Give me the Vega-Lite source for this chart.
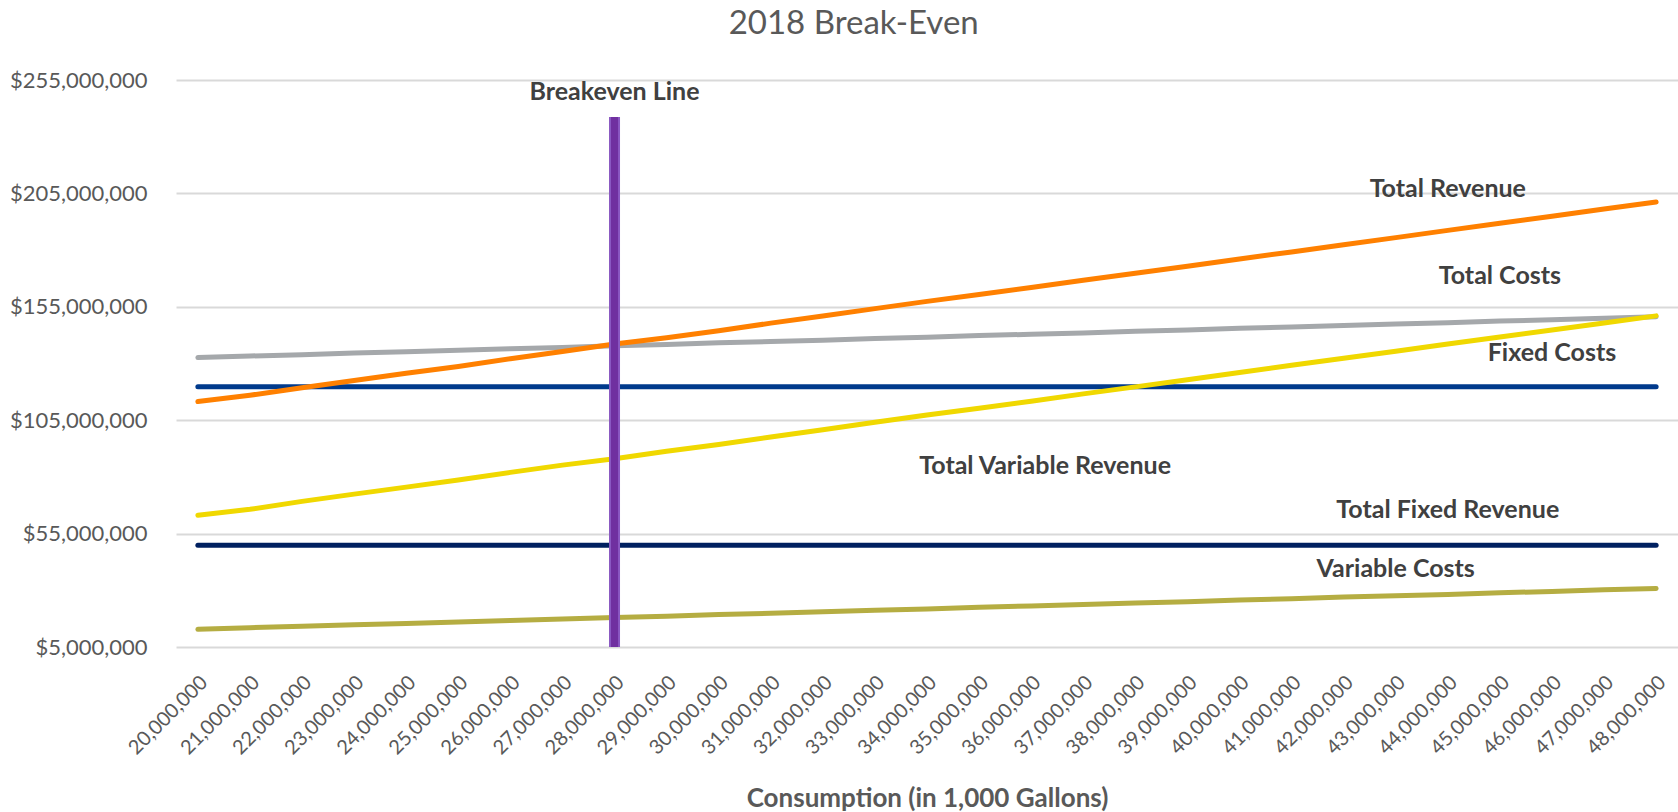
{
 "$schema": "https://vega.github.io/schema/vega-lite/v6.json",
 "width": 1502,
 "height": 567,
 "autosize": "none",
 "padding": {"left": 176, "top": 80, "right": 0, "bottom": 165},
 "background": "white",
 "title": {"text": "2018 Break-Even", "font": "Lato", "fontSize": 33, "fontWeight": "normal", "color": "#595959", "anchor": "middle", "frame": "bounds", "baseline": "alphabetic", "offset": 2, "dx": 10},
 "config": {"view": {"stroke": null}, "font": "Lato"},
 "datasets": {
  "lines": [
   {"consumption":"20,000,000","series":"Variable Costs","value":12800000},
   {"consumption":"21,000,000","series":"Variable Costs","value":13500000},
   {"consumption":"22,000,000","series":"Variable Costs","value":14100000},
   {"consumption":"23,000,000","series":"Variable Costs","value":14800000},
   {"consumption":"24,000,000","series":"Variable Costs","value":15400000},
   {"consumption":"25,000,000","series":"Variable Costs","value":16000000},
   {"consumption":"26,000,000","series":"Variable Costs","value":16700000},
   {"consumption":"27,000,000","series":"Variable Costs","value":17300000},
   {"consumption":"28,000,000","series":"Variable Costs","value":18000000},
   {"consumption":"29,000,000","series":"Variable Costs","value":18600000},
   {"consumption":"30,000,000","series":"Variable Costs","value":19300000},
   {"consumption":"31,000,000","series":"Variable Costs","value":19900000},
   {"consumption":"32,000,000","series":"Variable Costs","value":20500000},
   {"consumption":"33,000,000","series":"Variable Costs","value":21200000},
   {"consumption":"34,000,000","series":"Variable Costs","value":21800000},
   {"consumption":"35,000,000","series":"Variable Costs","value":22500000},
   {"consumption":"36,000,000","series":"Variable Costs","value":23100000},
   {"consumption":"37,000,000","series":"Variable Costs","value":23700000},
   {"consumption":"38,000,000","series":"Variable Costs","value":24400000},
   {"consumption":"39,000,000","series":"Variable Costs","value":25000000},
   {"consumption":"40,000,000","series":"Variable Costs","value":25700000},
   {"consumption":"41,000,000","series":"Variable Costs","value":26300000},
   {"consumption":"42,000,000","series":"Variable Costs","value":27000000},
   {"consumption":"43,000,000","series":"Variable Costs","value":27600000},
   {"consumption":"44,000,000","series":"Variable Costs","value":28200000},
   {"consumption":"45,000,000","series":"Variable Costs","value":28900000},
   {"consumption":"46,000,000","series":"Variable Costs","value":29500000},
   {"consumption":"47,000,000","series":"Variable Costs","value":30200000},
   {"consumption":"48,000,000","series":"Variable Costs","value":30800000},
   {"consumption":"20,000,000","series":"Total Fixed Revenue","value":49900000},
   {"consumption":"21,000,000","series":"Total Fixed Revenue","value":49900000},
   {"consumption":"22,000,000","series":"Total Fixed Revenue","value":49900000},
   {"consumption":"23,000,000","series":"Total Fixed Revenue","value":49900000},
   {"consumption":"24,000,000","series":"Total Fixed Revenue","value":49900000},
   {"consumption":"25,000,000","series":"Total Fixed Revenue","value":49900000},
   {"consumption":"26,000,000","series":"Total Fixed Revenue","value":49900000},
   {"consumption":"27,000,000","series":"Total Fixed Revenue","value":49900000},
   {"consumption":"28,000,000","series":"Total Fixed Revenue","value":49900000},
   {"consumption":"29,000,000","series":"Total Fixed Revenue","value":49900000},
   {"consumption":"30,000,000","series":"Total Fixed Revenue","value":49900000},
   {"consumption":"31,000,000","series":"Total Fixed Revenue","value":49900000},
   {"consumption":"32,000,000","series":"Total Fixed Revenue","value":49900000},
   {"consumption":"33,000,000","series":"Total Fixed Revenue","value":49900000},
   {"consumption":"34,000,000","series":"Total Fixed Revenue","value":49900000},
   {"consumption":"35,000,000","series":"Total Fixed Revenue","value":49900000},
   {"consumption":"36,000,000","series":"Total Fixed Revenue","value":49900000},
   {"consumption":"37,000,000","series":"Total Fixed Revenue","value":49900000},
   {"consumption":"38,000,000","series":"Total Fixed Revenue","value":49900000},
   {"consumption":"39,000,000","series":"Total Fixed Revenue","value":49900000},
   {"consumption":"40,000,000","series":"Total Fixed Revenue","value":49900000},
   {"consumption":"41,000,000","series":"Total Fixed Revenue","value":49900000},
   {"consumption":"42,000,000","series":"Total Fixed Revenue","value":49900000},
   {"consumption":"43,000,000","series":"Total Fixed Revenue","value":49900000},
   {"consumption":"44,000,000","series":"Total Fixed Revenue","value":49900000},
   {"consumption":"45,000,000","series":"Total Fixed Revenue","value":49900000},
   {"consumption":"46,000,000","series":"Total Fixed Revenue","value":49900000},
   {"consumption":"47,000,000","series":"Total Fixed Revenue","value":49900000},
   {"consumption":"48,000,000","series":"Total Fixed Revenue","value":49900000},
   {"consumption":"20,000,000","series":"Fixed Costs","value":119800000},
   {"consumption":"21,000,000","series":"Fixed Costs","value":119800000},
   {"consumption":"22,000,000","series":"Fixed Costs","value":119800000},
   {"consumption":"23,000,000","series":"Fixed Costs","value":119800000},
   {"consumption":"24,000,000","series":"Fixed Costs","value":119800000},
   {"consumption":"25,000,000","series":"Fixed Costs","value":119800000},
   {"consumption":"26,000,000","series":"Fixed Costs","value":119800000},
   {"consumption":"27,000,000","series":"Fixed Costs","value":119800000},
   {"consumption":"28,000,000","series":"Fixed Costs","value":119800000},
   {"consumption":"29,000,000","series":"Fixed Costs","value":119800000},
   {"consumption":"30,000,000","series":"Fixed Costs","value":119800000},
   {"consumption":"31,000,000","series":"Fixed Costs","value":119800000},
   {"consumption":"32,000,000","series":"Fixed Costs","value":119800000},
   {"consumption":"33,000,000","series":"Fixed Costs","value":119800000},
   {"consumption":"34,000,000","series":"Fixed Costs","value":119800000},
   {"consumption":"35,000,000","series":"Fixed Costs","value":119800000},
   {"consumption":"36,000,000","series":"Fixed Costs","value":119800000},
   {"consumption":"37,000,000","series":"Fixed Costs","value":119800000},
   {"consumption":"38,000,000","series":"Fixed Costs","value":119800000},
   {"consumption":"39,000,000","series":"Fixed Costs","value":119800000},
   {"consumption":"40,000,000","series":"Fixed Costs","value":119800000},
   {"consumption":"41,000,000","series":"Fixed Costs","value":119800000},
   {"consumption":"42,000,000","series":"Fixed Costs","value":119800000},
   {"consumption":"43,000,000","series":"Fixed Costs","value":119800000},
   {"consumption":"44,000,000","series":"Fixed Costs","value":119800000},
   {"consumption":"45,000,000","series":"Fixed Costs","value":119800000},
   {"consumption":"46,000,000","series":"Fixed Costs","value":119800000},
   {"consumption":"47,000,000","series":"Fixed Costs","value":119800000},
   {"consumption":"48,000,000","series":"Fixed Costs","value":119800000},
   {"consumption":"20,000,000","series":"Total Costs","value":132600000},
   {"consumption":"21,000,000","series":"Total Costs","value":133300000},
   {"consumption":"22,000,000","series":"Total Costs","value":133900000},
   {"consumption":"23,000,000","series":"Total Costs","value":134600000},
   {"consumption":"24,000,000","series":"Total Costs","value":135200000},
   {"consumption":"25,000,000","series":"Total Costs","value":135800000},
   {"consumption":"26,000,000","series":"Total Costs","value":136500000},
   {"consumption":"27,000,000","series":"Total Costs","value":137100000},
   {"consumption":"28,000,000","series":"Total Costs","value":137800000},
   {"consumption":"29,000,000","series":"Total Costs","value":138400000},
   {"consumption":"30,000,000","series":"Total Costs","value":139100000},
   {"consumption":"31,000,000","series":"Total Costs","value":139700000},
   {"consumption":"32,000,000","series":"Total Costs","value":140300000},
   {"consumption":"33,000,000","series":"Total Costs","value":141000000},
   {"consumption":"34,000,000","series":"Total Costs","value":141600000},
   {"consumption":"35,000,000","series":"Total Costs","value":142300000},
   {"consumption":"36,000,000","series":"Total Costs","value":142900000},
   {"consumption":"37,000,000","series":"Total Costs","value":143500000},
   {"consumption":"38,000,000","series":"Total Costs","value":144200000},
   {"consumption":"39,000,000","series":"Total Costs","value":144800000},
   {"consumption":"40,000,000","series":"Total Costs","value":145500000},
   {"consumption":"41,000,000","series":"Total Costs","value":146100000},
   {"consumption":"42,000,000","series":"Total Costs","value":146800000},
   {"consumption":"43,000,000","series":"Total Costs","value":147400000},
   {"consumption":"44,000,000","series":"Total Costs","value":148000000},
   {"consumption":"45,000,000","series":"Total Costs","value":148700000},
   {"consumption":"46,000,000","series":"Total Costs","value":149300000},
   {"consumption":"47,000,000","series":"Total Costs","value":150000000},
   {"consumption":"48,000,000","series":"Total Costs","value":150600000},
   {"consumption":"20,000,000","series":"Total Variable Revenue","value":63100000},
   {"consumption":"21,000,000","series":"Total Variable Revenue","value":65700000},
   {"consumption":"22,000,000","series":"Total Variable Revenue","value":69200000},
   {"consumption":"23,000,000","series":"Total Variable Revenue","value":72400000},
   {"consumption":"24,000,000","series":"Total Variable Revenue","value":75500000},
   {"consumption":"25,000,000","series":"Total Variable Revenue","value":78600000},
   {"consumption":"26,000,000","series":"Total Variable Revenue","value":82000000},
   {"consumption":"27,000,000","series":"Total Variable Revenue","value":85200000},
   {"consumption":"28,000,000","series":"Total Variable Revenue","value":88000000},
   {"consumption":"29,000,000","series":"Total Variable Revenue","value":91300000},
   {"consumption":"30,000,000","series":"Total Variable Revenue","value":94300000},
   {"consumption":"31,000,000","series":"Total Variable Revenue","value":97600000},
   {"consumption":"32,000,000","series":"Total Variable Revenue","value":100800000},
   {"consumption":"33,000,000","series":"Total Variable Revenue","value":104100000},
   {"consumption":"34,000,000","series":"Total Variable Revenue","value":107300000},
   {"consumption":"35,000,000","series":"Total Variable Revenue","value":110300000},
   {"consumption":"36,000,000","series":"Total Variable Revenue","value":113400000},
   {"consumption":"37,000,000","series":"Total Variable Revenue","value":116600000},
   {"consumption":"38,000,000","series":"Total Variable Revenue","value":119700000},
   {"consumption":"39,000,000","series":"Total Variable Revenue","value":122800000},
   {"consumption":"40,000,000","series":"Total Variable Revenue","value":126000000},
   {"consumption":"41,000,000","series":"Total Variable Revenue","value":129200000},
   {"consumption":"42,000,000","series":"Total Variable Revenue","value":132300000},
   {"consumption":"43,000,000","series":"Total Variable Revenue","value":135400000},
   {"consumption":"44,000,000","series":"Total Variable Revenue","value":138600000},
   {"consumption":"45,000,000","series":"Total Variable Revenue","value":141700000},
   {"consumption":"46,000,000","series":"Total Variable Revenue","value":144800000},
   {"consumption":"47,000,000","series":"Total Variable Revenue","value":147900000},
   {"consumption":"48,000,000","series":"Total Variable Revenue","value":151000000},
   {"consumption":"20,000,000","series":"Total Revenue","value":113200000},
   {"consumption":"21,000,000","series":"Total Revenue","value":116000000},
   {"consumption":"22,000,000","series":"Total Revenue","value":119300000},
   {"consumption":"23,000,000","series":"Total Revenue","value":122500000},
   {"consumption":"24,000,000","series":"Total Revenue","value":125700000},
   {"consumption":"25,000,000","series":"Total Revenue","value":128700000},
   {"consumption":"26,000,000","series":"Total Revenue","value":132100000},
   {"consumption":"27,000,000","series":"Total Revenue","value":135300000},
   {"consumption":"28,000,000","series":"Total Revenue","value":138600000},
   {"consumption":"29,000,000","series":"Total Revenue","value":141400000},
   {"consumption":"30,000,000","series":"Total Revenue","value":144400000},
   {"consumption":"31,000,000","series":"Total Revenue","value":147800000},
   {"consumption":"32,000,000","series":"Total Revenue","value":150900000},
   {"consumption":"33,000,000","series":"Total Revenue","value":154200000},
   {"consumption":"34,000,000","series":"Total Revenue","value":157400000},
   {"consumption":"35,000,000","series":"Total Revenue","value":160400000},
   {"consumption":"36,000,000","series":"Total Revenue","value":163500000},
   {"consumption":"37,000,000","series":"Total Revenue","value":166700000},
   {"consumption":"38,000,000","series":"Total Revenue","value":169800000},
   {"consumption":"39,000,000","series":"Total Revenue","value":172900000},
   {"consumption":"40,000,000","series":"Total Revenue","value":176100000},
   {"consumption":"41,000,000","series":"Total Revenue","value":179200000},
   {"consumption":"42,000,000","series":"Total Revenue","value":182400000},
   {"consumption":"43,000,000","series":"Total Revenue","value":185500000},
   {"consumption":"44,000,000","series":"Total Revenue","value":188700000},
   {"consumption":"45,000,000","series":"Total Revenue","value":191800000},
   {"consumption":"46,000,000","series":"Total Revenue","value":194900000},
   {"consumption":"47,000,000","series":"Total Revenue","value":198100000},
   {"consumption":"48,000,000","series":"Total Revenue","value":201200000}
  ],
  "breakeven": [
   {"consumption":"28,000,000","low":5000000,"high":238700000}
  ],
  "labels": [
   {"consumption":"28,000,000","value":249700000,"label":"Breakeven Line"},
   {"consumption":"44,000,000","value":206800000,"label":"Total Revenue"},
   {"consumption":"45,000,000","value":168600000,"label":"Total Costs"},
   {"consumption":"46,000,000","value":134600000,"label":"Fixed Costs"},
   {"consumption":"36,000,000","value":84600000,"label":"Total Variable Revenue"},
   {"consumption":"44,000,000","value":65300000,"label":"Total Fixed Revenue"},
   {"consumption":"43,000,000","value":39400000,"label":"Variable Costs"}
  ]
 },
 "encoding": {
  "x": {
   "field": "consumption", "type": "ordinal",
   "scale": {"type": "point", "padding": 0.42},
   "axis": {
    "title": "Consumption (in 1,000 Gallons)",
    "titleFont": "Lato", "titleFontSize": 26, "titleFontWeight": "bold", "titleColor": "#595959",
    "titleY": 151, "titleBaseline": "middle",
    "labelAngle": -45, "labelAlign": "right", "labelBaseline": "middle",
    "labelFont": "Lato", "labelFontSize": 20, "labelColor": "#595959",
    "labelPadding": 32, "labelOffset": 6, "labelOverlap": false, "labelFlush": false, "labelBound": false,
    "domain": false, "ticks": false, "grid": false
   }
  }
 },
 "layer": [
  {
   "data": {"name": "lines"},
   "mark": {"type": "line", "strokeWidth": 5, "strokeCap": "round", "strokeJoin": "round"},
   "encoding": {
    "y": {
     "field": "value", "type": "quantitative",
     "scale": {"domain": [5000000, 255000000], "nice": false, "zero": false},
     "axis": {
      "title": null,
      "values": [5000000, 55000000, 105000000, 155000000, 205000000, 255000000],
      "format": "$,.0f",
      "labelFont": "Lato", "labelFontSize": 22, "labelColor": "#595959",
      "labelPadding": 29, "ticks": false, "domain": false,
      "grid": true, "gridColor": "#D9D9D9", "gridWidth": 2
     }
    },
    "color": {
     "field": "series", "type": "nominal", "legend": null,
     "scale": {
      "domain": ["Variable Costs", "Total Fixed Revenue", "Fixed Costs", "Total Costs", "Total Variable Revenue", "Total Revenue"],
      "range": ["#B5AD42", "#002060", "#003A8C", "#A5A8AB", "#F0D800", "#FF8000"]
     }
    }
   }
  },
  {
   "data": {"name": "breakeven"},
   "mark": {"type": "rule", "strokeWidth": 11, "color": "#8A58C2", "strokeCap": "butt"},
   "encoding": {
    "y": {"field": "low", "type": "quantitative"},
    "y2": {"field": "high"}
   }
  },
  {
   "data": {"name": "breakeven"},
   "mark": {"type": "rule", "strokeWidth": 7, "color": "#7030A0", "strokeCap": "butt"},
   "encoding": {
    "y": {"field": "low", "type": "quantitative"},
    "y2": {"field": "high"}
   }
  },
  {
   "data": {"name": "labels"},
   "transform": [{"filter": "datum.label !== 'Total Variable Revenue'"}],
   "mark": {"type": "text", "font": "Lato", "fontSize": 25, "fontWeight": "bold", "color": "#404040", "align": "center", "baseline": "middle"},
   "encoding": {
    "y": {"field": "value", "type": "quantitative"},
    "text": {"field": "label"}
   }
  },
  {
   "data": {"name": "labels"},
   "transform": [{"filter": "datum.label === 'Total Variable Revenue'"}],
   "mark": {"type": "text", "font": "Lato", "fontSize": 25, "fontWeight": "bold", "color": "#404040", "align": "center", "baseline": "middle", "dx": 14},
   "encoding": {
    "y": {"field": "value", "type": "quantitative"},
    "text": {"field": "label"}
   }
  }
 ]
}
